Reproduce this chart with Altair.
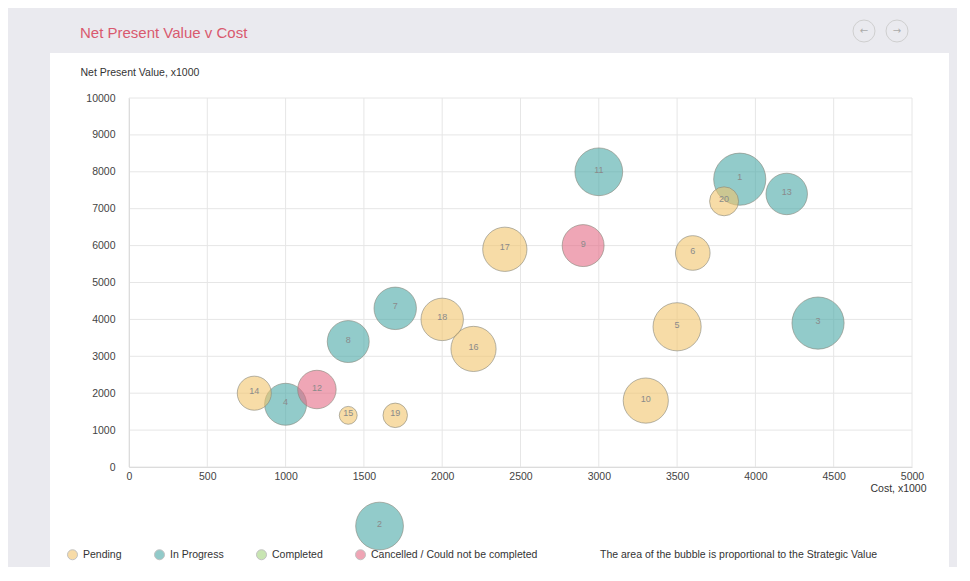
import altair as alt
import pandas as pd

# ---- data ----
ids = list(range(1, 21))
cost = [3900, 1600, 4400, 1000, 3500, 3600, 1700, 1400, 2900, 3300,
        3000, 1200, 4200, 800, 1400, 2200, 2400, 2000, 1700, 3800]
npv = [7800, -1600, 3900, 1700, 3800, 5800, 4300, 3400, 6000, 1800,
       8000, 2100, 7400, 2000, 1400, 3200, 5900, 4000, 1400, 7200]
strategic = [68, 57, 68, 44, 58, 30, 45, 44, 44, 51,
             57, 37, 43, 29, 8, 51, 49, 45, 15, 21]
P, I, C, X = "Pending", "In Progress", "Completed", "Cancelled / Could not be completed"
status = [I, I, I, I, P, P, I, I, X, P,
          I, X, I, P, P, P, P, P, P, P]
statuses = [P, I, C, X]
status_colors = ["#f2c46d", "#49a8a6", "#a5d57f", "#e56a85"]

x_ticks = [0, 500, 1000, 1500, 2000, 2500, 3000, 3500, 4000, 4500, 5000]
y_ticks = [0, 1000, 2000, 3000, 4000, 5000, 6000, 7000, 8000, 9000, 10000]

title_text = "Net Present Value v Cost"
x_title = "Cost, x1000"
y_title = "Net Present Value, x1000"
note_text = "The area of the bubble is proportional to the Strategic Value"

df = pd.DataFrame({"id": ids, "cost": cost, "npv": npv,
                   "strategic": strategic, "status": status})

W, H = 783, 369
FONT = "Liberation Sans"

xscale = alt.Scale(domain=[0, 5000], nice=False, zero=False)
yscale = alt.Scale(domain=[0, 10000], nice=False, zero=False)

xaxis = alt.Axis(values=x_ticks, grid=False, ticks=False, domain=True, domainColor="#dcdcdc",
                 labelFlush=False, labelPadding=4, labelFontSize=10.5, labelFont=FONT,
                 labelColor="#444", title=x_title, titleX=797, titleY=21,
                 titleAlign="right", titleBaseline="middle", titleFontSize=10.5,
                 titleFont=FONT, titleFontWeight="normal", titleColor="#333", zindex=1,
                 format="d")
yaxis = alt.Axis(values=y_ticks, grid=False, ticks=False, domain=True, domainColor="#dcdcdc",
                 labelPadding=14, labelFontSize=10.5, labelFont=FONT, labelColor="#444",
                 title=y_title, titleAngle=0, titleX=-49, titleY=-26, titleAlign="left",
                 titleBaseline="middle", titleFontSize=10.5, titleFont=FONT,
                 titleFontWeight="normal", titleColor="#333", zindex=1, format="d")

one = pd.DataFrame({"k": [0]})

panel = alt.Chart(one).mark_rect(color="white").encode(
    x=alt.value(-79), x2=alt.value(820), y=alt.value(-45), y2=alt.value(472)
)

xgrid = alt.Chart(pd.DataFrame({"v": x_ticks})).mark_rule(color="#e6e6e6", strokeWidth=1).encode(
    x=alt.X("v:Q", scale=xscale, axis=xaxis),
    y=alt.value(0), y2=alt.value(H)
)
ygrid = alt.Chart(pd.DataFrame({"v": y_ticks})).mark_rule(color="#e6e6e6", strokeWidth=1).encode(
    y=alt.Y("v:Q", scale=yscale, axis=yaxis),
    x=alt.value(0), x2=alt.value(W)
)

bubbles = alt.Chart(df).mark_circle(
    fillOpacity=0.6, stroke="#86867a", strokeWidth=1, strokeOpacity=0.6
).encode(
    x=alt.X("cost:Q", scale=xscale, axis=xaxis),
    y=alt.Y("npv:Q", scale=yscale, axis=yaxis),
    size=alt.Size("strategic:Q", scale=alt.Scale(type="linear", domain=[0, 100], range=[0, 4000]),
                  legend=None),
    fill=alt.Fill("status:N", scale=alt.Scale(domain=statuses, range=status_colors),
                  legend=alt.Legend(orient="none", legendX=-62, legendY=451, direction="horizontal",
                                    title=None, symbolType="circle", symbolSize=100,
                                    symbolStrokeColor="#999", symbolStrokeWidth=1,
                                    symbolOpacity=0.6, labelFontSize=10.5, labelFont=FONT,
                                    labelColor="#333", columnPadding=30, labelOffset=5,
                                    labelLimit=400, padding=0)),
    order=alt.Order("id:Q")
)

labels = alt.Chart(df).mark_text(fontSize=9, color="#8a8a8a", font=FONT, baseline="middle", dy=-2).encode(
    x=alt.X("cost:Q", scale=xscale, axis=xaxis),
    y=alt.Y("npv:Q", scale=yscale, axis=yaxis),
    text="id:N"
)

title = alt.Chart(pd.DataFrame({"t": [title_text]})).mark_text(
    align="left", baseline="middle", fontSize=15, font=FONT, color="#d9596e"
).encode(x=alt.value(-49), y=alt.value(-65), text="t:N")

nav_left = alt.Chart(one).mark_point(shape="circle", filled=False, size=484, color="#cfcfcf",
                                     strokeWidth=1, opacity=1).encode(
    x=alt.value(735), y=alt.value(-67))
nav_right = alt.Chart(one).mark_point(shape="circle", filled=False, size=484, color="#cfcfcf",
                                      strokeWidth=1, opacity=1).encode(
    x=alt.value(768), y=alt.value(-67))
arrow_left = alt.Chart(pd.DataFrame({"t": ["←"]})).mark_text(fontSize=10, color="#aaa", font="DejaVu Sans").encode(
    x=alt.value(735), y=alt.value(-67), text="t:N")
arrow_right = alt.Chart(pd.DataFrame({"t": ["→"]})).mark_text(fontSize=10, color="#aaa", font="DejaVu Sans").encode(
    x=alt.value(768), y=alt.value(-67), text="t:N")

note = alt.Chart(pd.DataFrame({"t": [note_text]})).mark_text(
    align="left", baseline="middle", fontSize=10.5, font=FONT, color="#333"
).encode(x=alt.value(471), y=alt.value(457), text="t:N")

chart = alt.layer(
    panel, xgrid, ygrid, bubbles, labels, title, nav_left, nav_right, arrow_left, arrow_right, note
).properties(
    width=W, height=H,
    autosize=alt.AutoSizeParams(type="none"),
    padding={"left": 121, "top": 90, "right": 45, "bottom": 100},
    background="#eaeaef"
).configure_view(stroke=None)

chart.save("out.html", embed_options={"renderer": "svg", "actions": False})
